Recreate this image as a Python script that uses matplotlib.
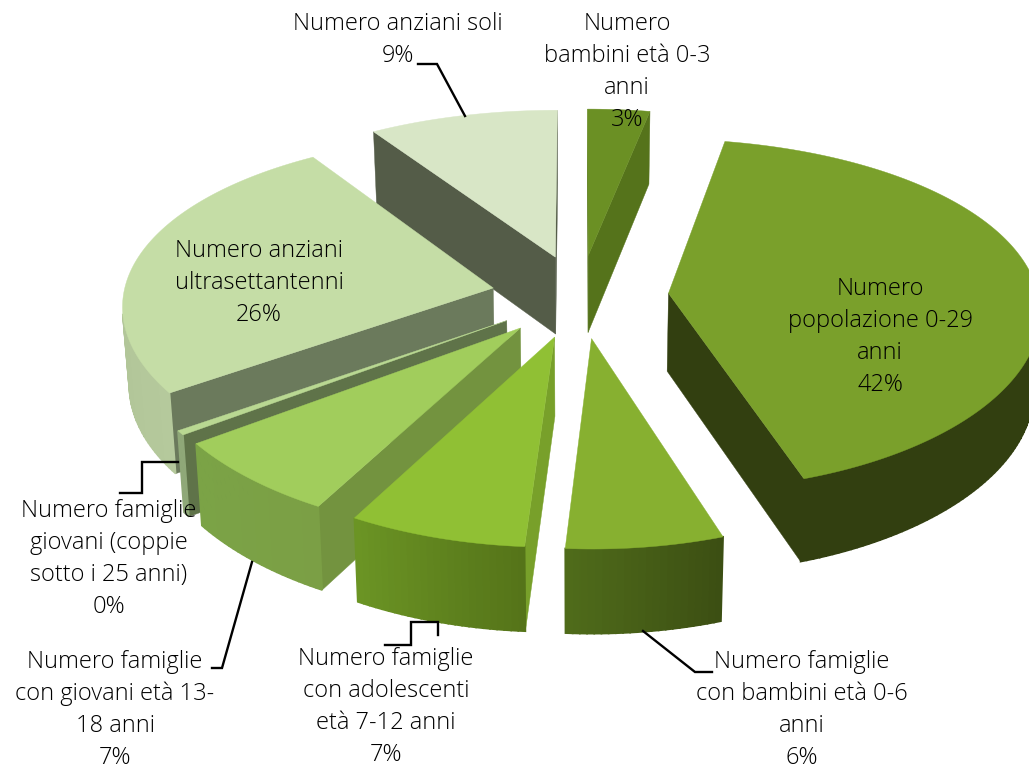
import numpy as np
import matplotlib
matplotlib.use("Agg")
import matplotlib.pyplot as plt
from matplotlib.colors import to_rgb

# data (clockwise from 12 o'clock)
names = ["Numero\nbambini età 0-3\nanni",
         "Numero\npopolazione 0-29\nanni",
         "Numero famiglie\ncon bambini età 0-6\nanni",
         "Numero famiglie\ncon adolescenti\netà 7-12 anni",
         "Numero famiglie\ncon giovani età 13-\n18 anni",
         "Numero famiglie\ngiovani (coppie\nsotto i 25 anni)",
         "Numero anziani\nultrasettantenni",
         "Numero anziani soli"]
values = [3.0, 41.9, 6.15, 6.95, 6.95, 0.4, 25.5, 9.15]

top_colors = ["#6b9024", "#7aa02b", "#87b030", "#90c034", "#a1cd5c", "#b9d892", "#c5dda6", "#d8e6c6"]
face_colors = ["#55731b", "#323f10", "#3d5013", "#78a02a", "#73933f", "#5f7349", "#6b7a5c", "#545c48"]
side_left = ["#55731b", "#323f10", "#4f6b1a", "#6b9424", "#7ba346", "#8fa878", "#a9bd90", "#545c48"]
side_right = ["#55731b", "#323f10", "#3c4f13", "#557419", "#7b9f45", "#8fa878", "#b5c99c", "#545c48"]
label_xy = [(627, 72), (880, 337), (802, 710), (386, 707), (115, 710), (109, 559), (259, 283), (398, 40)]
leaders = [None, None,
           [(643, 631), (695, 672), (712, 672)],
           [(438, 635), (438, 622), (411, 622), (411, 645), (385, 645)],
           [(252, 562), (222, 668), (212, 668)],
           [(178, 462), (142, 462), (142, 493), (120, 493)],
           None,
           [(418, 64), (437, 64), (465, 116)]]

# pie geometry, in picture pixels
cx, cy = 580, 296
A, B = 370, 173.6
persp_x, persp_y = 0.09, 0.1216
explode = 0.24
depth = 78
shrink = 0.985

def project(X, Y):
    s = 1 / (1 + persp_y * Y)
    return cx + A * X / (1 + persp_x * Y), cy - B * Y * s, s

def bottom(X, Y):
    x, y, s = project(X, Y)
    return cx + (x - cx) * shrink, y + depth * np.sqrt(s)

def visible(pts):
    p = np.array(pts)
    q = np.roll(p, -1, axis=0)
    return np.sum(p[:, 0] * q[:, 1] - q[:, 0] * p[:, 1]) < 0

def blend(c1, c2, t):
    c1, c2 = np.array(to_rgb(c1)), np.array(to_rgb(c2))
    return tuple(c1 + (c2 - c1) * t)

plt.rcParams['font.family'] = ['Open Sans', 'DejaVu Sans']

fig = plt.figure(figsize=(10.29, 7.71), dpi=100)
ax = fig.add_axes([0, 0, 1, 1])
ax.set_xlim(0, 1029)
ax.set_ylim(771, 0)
ax.axis('off')

edges = np.cumsum([0] + values) / sum(values) * 2 * np.pi
mids = (edges[:-1] + edges[1:]) / 2

# painter's order: back slices first
for i in np.argsort(-np.cos(mids)):
    t = np.linspace(edges[i], edges[i + 1], max(int(np.degrees(edges[i + 1] - edges[i])), 2) + 1)
    ox, oy = explode * np.sin(mids[i]), explode * np.cos(mids[i])
    X = ox + np.sin(t)
    Y = oy + np.cos(t)
    tx, ty, _ = project(ox, oy)
    tbx, tby = bottom(ox, oy)
    x, y, _ = project(X, Y)
    bx, by = bottom(X, Y)

    # cut faces
    start = [(tx, ty), (x[0], y[0]), (bx[0], by[0]), (tbx, tby)]
    end = [(x[-1], y[-1]), (tx, ty), (tbx, tby), (bx[-1], by[-1])]
    for quad in (start, end):
        if visible(quad):
            ax.fill(*zip(*quad), color=face_colors[i], lw=0.3, zorder=2)

    # outer wall, shaded strip by strip
    for j in range(len(t) - 1):
        quad = [(x[j], y[j]), (x[j + 1], y[j + 1]), (bx[j + 1], by[j + 1]), (bx[j], by[j])]
        if visible(quad):
            col = blend(side_right[i], side_left[i], j / (len(t) - 2))
            ax.fill(*zip(*quad), color=col, lw=1.2, zorder=2)

    # top
    ax.fill(np.r_[tx, x], np.r_[ty, y], color=top_colors[i], lw=0.3, zorder=2)

for path in leaders:
    if path:
        ax.plot(*zip(*path), color='black', lw=1.7, solid_joinstyle='miter', zorder=3)

for name, val, (lx, ly) in zip(names, values, label_xy):
    ax.text(lx, ly, "%s\n%d%%" % (name, round(val)), ha='center', va='center', fontsize=17,
            fontweight='light', color='black', linespacing=1.44, zorder=4)

fig.savefig("out.png", dpi=100)
